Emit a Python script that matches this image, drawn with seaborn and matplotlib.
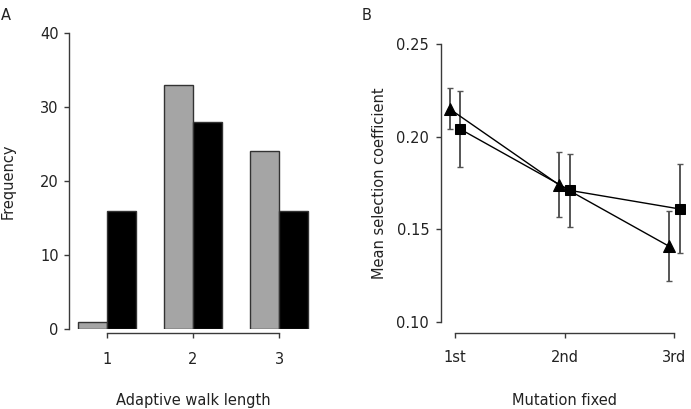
import numpy as np
import pandas as pd
import seaborn as sns
import matplotlib
matplotlib.use('Agg')
import matplotlib.pyplot as plt

# panel A data
walk_length = ['1', '2', '3']
freq_grey = [1, 33, 24]
freq_black = [16, 28, 16]

# panel B data
mutation = ['1st', '2nd', '3rd']
s_tri = [0.215, 0.174, 0.141]
s_tri_err = [0.011, 0.0175, 0.019]
s_sq = [0.204, 0.171, 0.161]
s_sq_err = [0.0205, 0.0195, 0.024]

sns.set_style('ticks')
plt.rcParams['font.family'] = ['DejaVu Sans']
plt.rcParams['font.size'] = 10
txt = '#222222'
line_c = '#3a3a3a'

fig = plt.figure(figsize=(6.91, 4.09), dpi=100)
W, H = 691, 409

# ---------- A ----------
axA = fig.add_axes([69 / W, 1 - 329 / H, 241 / W, 296 / H])
df_a = pd.DataFrame({
    'length': walk_length * 2,
    'freq': freq_grey + freq_black,
    'grp': ['g'] * 3 + ['b'] * 3,
})
sns.barplot(data=df_a, x='length', y='freq', hue='grp', ax=axA,
            palette=['#a5a5a5', '#000000'], width=0.67,
            edgecolor='#333333', linewidth=1, legend=False)
axA.set_xlim(-0.442, 2.36)
axA.set_ylim(0, 40)
axA.set_yticks([0, 10, 20, 30, 40])
sns.despine(ax=axA)
axA.spines['left'].set_bounds(0, 40)
axA.spines['bottom'].set_bounds(0, 2)
axA.spines['bottom'].set_position(('outward', 3))
axA.set_xlabel('Adaptive walk length', color=txt, fontsize=10.5)
axA.set_ylabel('Frequency', color=txt, fontsize=10.5)
axA.xaxis.set_label_coords((193 - 69) / 241, -0.216)
axA.yaxis.set_label_coords(-0.222, 0.5)
axA.tick_params(axis='x', length=3.5, pad=10, colors=txt, labelsize=10.5)
axA.tick_params(axis='y', length=3.5, pad=4, colors=txt, labelsize=10.5)

# ---------- B ----------
axB = fig.add_axes([441 / W, 1 - 322 / H, 244 / W, 278 / H])
xs = np.arange(len(mutation))
off = 0.05
df_b = pd.DataFrame({
    'x': np.concatenate([xs - off, xs + off]),
    's': s_tri + s_sq,
    'grp': ['tri'] * 3 + ['sq'] * 3,
})
axB.errorbar(xs - off, s_tri, yerr=s_tri_err, fmt='none', ecolor='#555555',
             elinewidth=1.4, capsize=2, capthick=1, zorder=1)
axB.errorbar(xs + off, s_sq, yerr=s_sq_err, fmt='none', ecolor='#555555',
             elinewidth=1.4, capsize=2, capthick=1, zorder=1)
sns.lineplot(data=df_b, x='x', y='s', hue='grp', style='grp',
             markers={'tri': '^', 'sq': 's'}, dashes=False,
             palette={'tri': 'black', 'sq': 'black'}, linewidth=1,
             markersize=8, markeredgecolor='black', legend=False, ax=axB,
             zorder=3)
for ln in axB.lines:
    if ln.get_marker() == 's':
        ln.set_markersize(6.5)
axB.set_xlim(-0.128, 2.1)
axB.set_ylim(0.10, 0.25)
axB.set_yticks([0.10, 0.15, 0.20, 0.25])
axB.set_yticklabels(['0.10', '0.15', '0.20', '0.25'])
axB.set_xticks(xs)
axB.set_xticklabels(mutation)
sns.despine(ax=axB)
axB.spines['left'].set_bounds(0.10, 0.25)
axB.spines['bottom'].set_bounds(0, 2)
axB.spines['bottom'].set_position(('outward', 8))
axB.set_xlabel('Mutation fixed', color=txt, fontsize=10.5)
axB.set_ylabel('Mean selection coefficient', color=txt, fontsize=10.5)
axB.xaxis.set_label_coords((565 - 441) / 244, -0.255)
axB.yaxis.set_label_coords(-0.221, 0.5)
axB.tick_params(axis='x', length=3.5, pad=9, colors=txt, labelsize=10.5)
axB.tick_params(axis='y', length=3.5, pad=5, colors=txt, labelsize=10.5)

for ax in (axA, axB):
    for sp in ax.spines.values():
        sp.set_color(line_c)
        sp.set_linewidth(1)
    ax.tick_params(color=line_c, width=1)

fig.text(1 / W, 1 - 8 / H, 'A', va='top', ha='left', color=txt, fontsize=10.5)
fig.text(362 / W, 1 - 8 / H, 'B', va='top', ha='left', color=txt, fontsize=10.5)

fig.savefig('out.png', dpi=100)
